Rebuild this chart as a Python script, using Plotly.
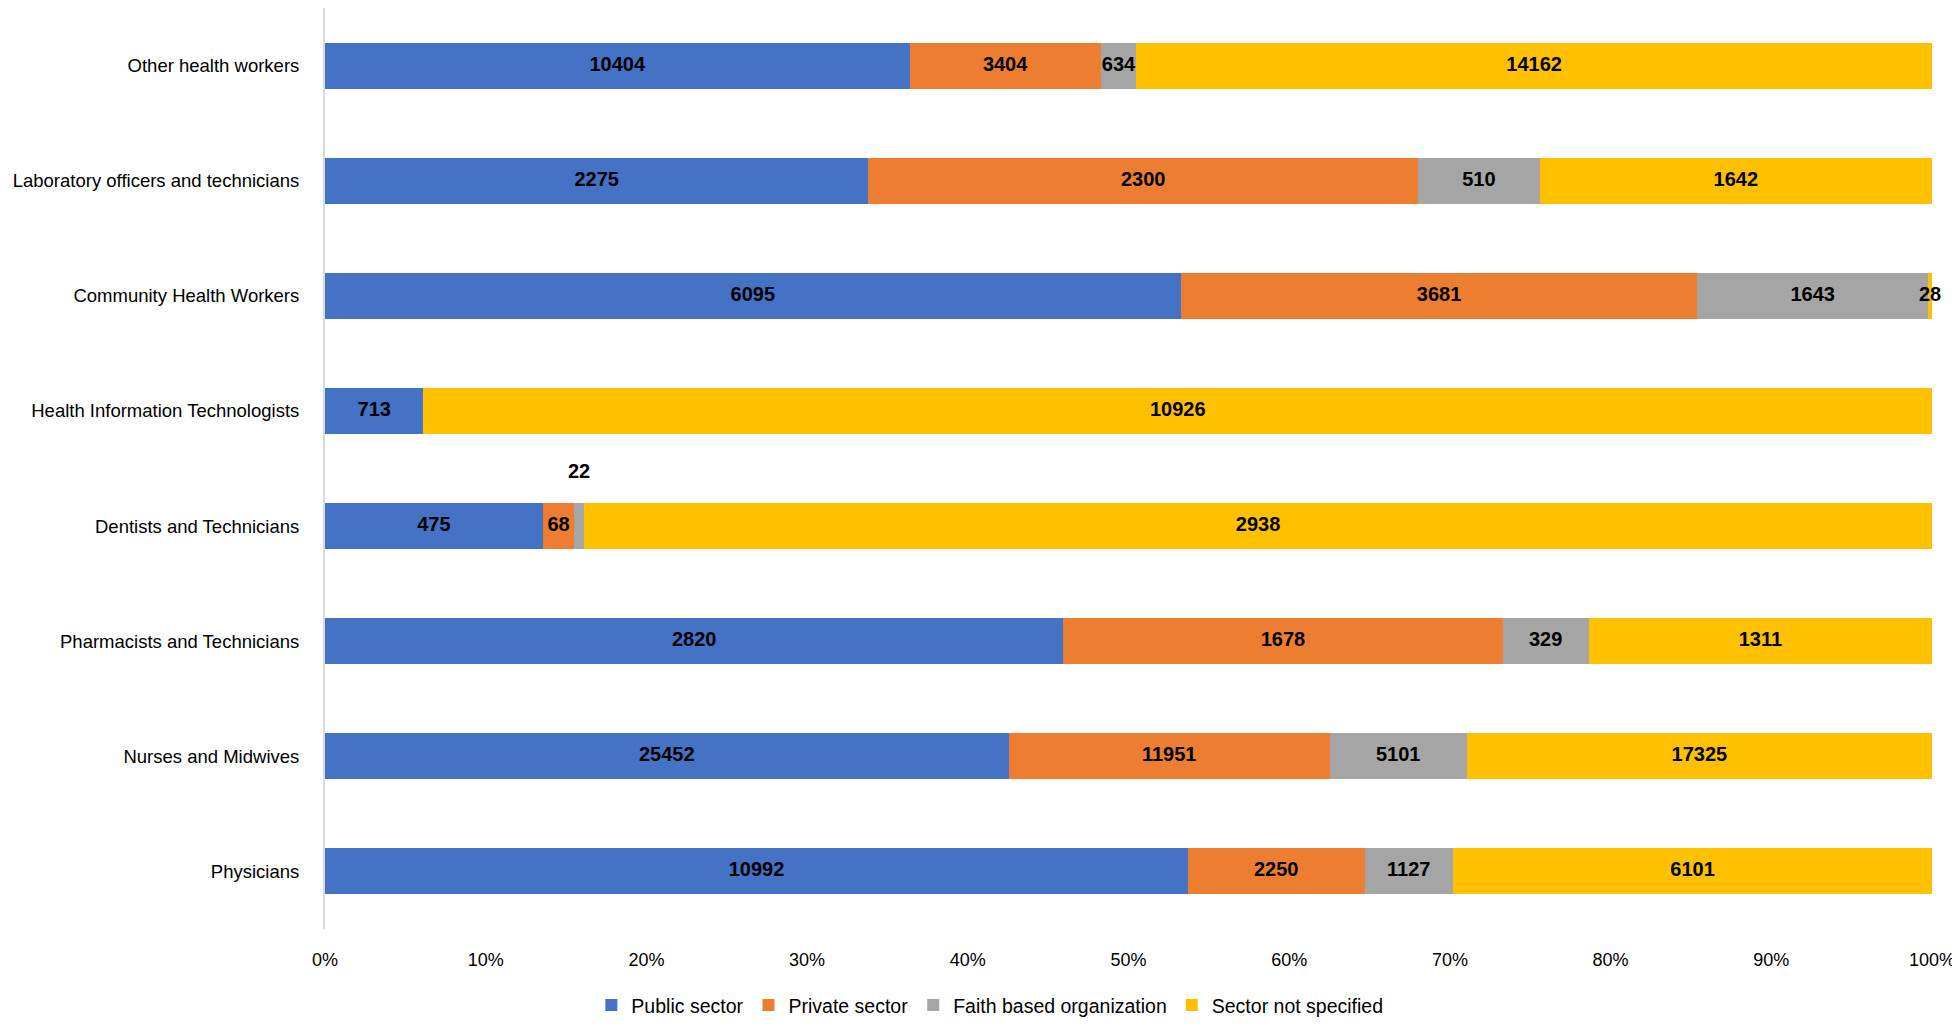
import plotly.graph_objects as go

categories = ["Physicians", "Nurses and Midwives", "Pharmacists and Technicians",
              "Dentists and Technicians", "Health Information Technologists",
              "Community Health Workers", "Laboratory officers and technicians",
              "Other health workers"]
public_sector = [10992, 25452, 2820, 475, 713, 6095, 2275, 10404]
private_sector = [2250, 11951, 1678, 68, 0, 3681, 2300, 3404]
faith_based = [1127, 5101, 329, 22, 0, 1643, 510, 634]
not_specified = [6101, 17325, 1311, 2938, 10926, 28, 1642, 14162]

series = [("Public sector", public_sector, "#4472C4"),
          ("Private sector", private_sector, "#ED7D31"),
          ("Faith based organization", faith_based, "#A5A5A5"),
          ("Sector not specified", not_specified, "#FFC000")]

FONT = "Liberation Sans Narrow, Arial Narrow, Liberation Sans, Arial, sans-serif"
LABEL_SIZE = 20

# label placed above the bar for a segment too thin to hold it
outside_label = ("Dentists and Technicians", "Faith based organization")

fig = go.Figure()
for name, vals, color in series:
    fig.add_trace(go.Bar(
        name=name, y=categories, x=vals, orientation="h",
        marker=dict(color=color, line=dict(width=0)),
        hoverinfo="x+y+name",
    ))

# data labels, centred on each segment (positions derived from the data)
totals = [sum(s[1][i] for s in series) for i in range(len(categories))]
lx, ly, lt = [], [], []
for i, cat in enumerate(categories):
    cum = 0
    for name, vals, _ in series:
        v = vals[i]
        if v > 0:
            c = (cum + v / 2) / totals[i] * 100
            if (cat, name) == outside_label:
                fig.add_annotation(
                    x=c, y=cat, text=str(v), showarrow=False, yshift=55,
                    font=dict(family=FONT, size=LABEL_SIZE, color="black",
                              weight="bold"))
            else:
                lx.append(c); ly.append(cat); lt.append(str(v))
        cum += v

fig.add_trace(go.Scatter(
    x=lx, y=ly, text=lt, mode="text", textposition="middle center",
    textfont=dict(family=FONT, size=LABEL_SIZE, color="black", weight="bold"),
    showlegend=False, hoverinfo="skip", cliponaxis=False))

# the page body keeps its default 8px margin, so the figure is sized to fit
fig.update_layout(
    barmode="stack", barnorm="percent", bargap=0.6,
    width=1952, height=1012,
    margin=dict(l=317, r=28, t=0, b=91),
    plot_bgcolor="white", paper_bgcolor="white",
    font=dict(family=FONT, size=19, color="black"),
    legend=dict(orientation="h", xref="container", x=0.503, xanchor="center",
                yref="container", y=0.0145, yanchor="middle",
                font=dict(family=FONT, size=19.5, color="black"),
                traceorder="normal"),
    showlegend=True,
)
fig.update_xaxes(range=[0, 100], tickvals=list(range(0, 101, 10)),
                 ticktext=[f"{v}%" for v in range(0, 101, 10)],
                 showgrid=False, zeroline=False, showline=False,
                 ticks="", ticklabelstandoff=18, automargin=False,
                 ticklabeloverflow="allow",
                 tickfont=dict(family=FONT, size=18, color="black"))
fig.update_yaxes(categoryorder="array", categoryarray=categories,
                 range=[-0.5, len(categories) - 0.5],
                 showgrid=False, zeroline=False, showline=True,
                 linecolor="#D9D9D9", linewidth=2, ticks="",
                 ticklabelstandoff=20, automargin=False,
                 tickfont=dict(family=FONT, size=18.5, color="black"))

fig.write_html("out.html", config={"displayModeBar": False})
